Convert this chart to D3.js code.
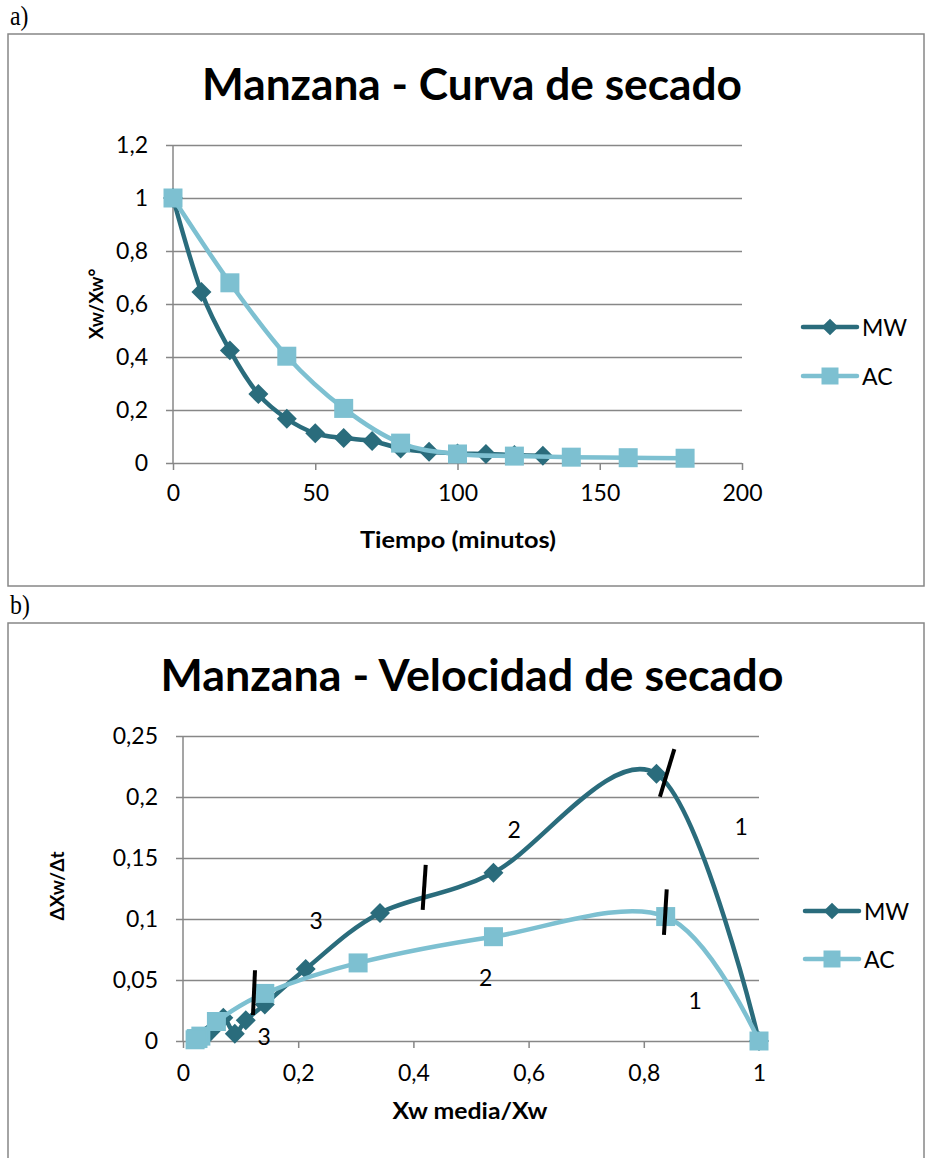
<!DOCTYPE html>
<html>
<head>
<meta charset="utf-8">
<script src="https://cdn.jsdelivr.net/npm/d3@7"></script>
<style>
  body { margin: 0; background: #fff; }
  svg { display: block; }
  text { font-family: Lato, "Open Sans", sans-serif; fill: #000; }
</style>
</head>
<body>
<svg id="chart" width="926" height="1158"></svg>
<script>
// ---- a) Curva de secado: Xw/Xw° frente al tiempo ----
const tiempoMW = [0, 10, 20, 30, 40, 50, 60, 70, 80, 90, 100, 110, 120, 130];
const xwMW     = [1, 0.645, 0.425, 0.26, 0.167, 0.112, 0.094, 0.083, 0.055, 0.042, 0.036, 0.034, 0.03, 0.027];
const tiempoAC = [0, 20, 40, 60, 80, 100, 120, 140, 160, 180];
const xwAC     = [1, 0.68, 0.403, 0.206, 0.075, 0.034, 0.026, 0.022, 0.02, 0.018];
const ticksTiempo = [0, 50, 100, 150, 200];
const ticksXw     = [0, 0.2, 0.4, 0.6, 0.8, 1, 1.2];

// ---- b) Velocidad de secado: ΔXw/Δt frente a Xw media/Xw ----
const xmMW = [1, 0.822, 0.539, 0.342, 0.213, 0.142, 0.109, 0.09, 0.07, 0.048, 0.039, 0.035, 0.032, 0.028];
const vMW  = [0, 0.219, 0.138, 0.105, 0.059, 0.030, 0.017, 0.006, 0.019, 0.008, 0.004, 0.002, 0.003, 0.002];
const xmAC = [1, 0.838, 0.539, 0.304, 0.142, 0.058, 0.031, 0.026, 0.023, 0.021];
const vAC  = [0, 0.102, 0.0855, 0.064, 0.039, 0.016, 0.004, 0.002, 0.002, 0.001];
const ticksXm = [0, 0.2, 0.4, 0.6, 0.8, 1];
const ticksV  = [0, 0.05, 0.1, 0.15, 0.2, 0.25];

// Trazos que separan los periodos de secado y números de periodo
const cortes = [
  { x1: 0.125, y1: 0.058, x2: 0.1215, y2: 0.0213 },
  { x1: 0.4214, y1: 0.1443, x2: 0.4161, y2: 0.1074 },
  { x1: 0.853, y1: 0.2393, x2: 0.828, y2: 0.2002 },
  { x1: 0.8398, y1: 0.1243, x2: 0.835, y2: 0.0869 }
];
const periodos = [
  { x: 0.969, y: 0.1754, t: "1" },
  { x: 0.575, y: 0.173, t: "2" },
  { x: 0.231, y: 0.0984, t: "3" },
  { x: 0.5255, y: 0.0516, t: "2" },
  { x: 0.889, y: 0.0328, t: "1" },
  { x: 0.141, y: 0.0033, t: "3" }
];

const colorMW = "#2A6C7C";
const colorAC = "#7DC0D1";
const gridColor = "#878787";

const locale = d3.formatLocale({ decimal: ",", thousands: ".", grouping: [3], currency: ["", " €"] });
const fmt = locale.format("~g");

const svg = d3.select("#chart");

const toPoints = (xs, ys) => xs.map((x, i) => ({ x, y: ys[i] }));

function panel(cfg) {
  const g = svg.append("g");

  // marco del gráfico
  g.append("rect")
    .attr("x", cfg.frame[0]).attr("y", cfg.frame[1])
    .attr("width", cfg.frame[2]).attr("height", cfg.frame[3])
    .attr("fill", "none").attr("stroke", gridColor).attr("stroke-width", 1.5);

  // letra del panel
  svg.append("text")
    .attr("transform", `translate(10,${cfg.frame[1] - 9}) scale(0.85,1)`)
    .style("font-family", "'Liberation Serif', serif")
    .style("font-size", "28px")
    .text(cfg.letter);

  const x = d3.scaleLinear().domain(cfg.xDomain).range(cfg.xRange);
  const y = d3.scaleLinear().domain(cfg.yDomain).range(cfg.yRange);
  const w = cfg.xRange[1] - cfg.xRange[0];

  // título
  g.append("text")
    .attr("x", cfg.titleX).attr("y", cfg.titleY)
    .attr("text-anchor", "middle")
    .attr("textLength", cfg.titleLen)
    .attr("lengthAdjust", "spacingAndGlyphs")
    .style("font-size", "43px").style("font-weight", "bold")
    .text(cfg.title);

  // eje y con líneas de cuadrícula
  const yAxis = g.append("g")
    .attr("transform", `translate(${cfg.xRange[0] - 7},0)`)
    .call(d3.axisLeft(y).tickValues(cfg.yTicks).tickSize(-(w + 7)).tickPadding(18).tickFormat(fmt));
  yAxis.select(".domain").remove();
  yAxis.selectAll(".tick line").attr("stroke", gridColor).attr("stroke-width", 1.5);
  yAxis.selectAll(".tick text").style("font-size", "23px").style("font-family", "Lato, sans-serif");

  g.append("line")
    .attr("x1", cfg.xRange[0]).attr("x2", cfg.xRange[0])
    .attr("y1", cfg.yRange[1]).attr("y2", cfg.yRange[0])
    .attr("stroke", gridColor).attr("stroke-width", 1.5);

  // eje x
  const xAxis = g.append("g")
    .attr("transform", `translate(0,${cfg.yRange[0]})`)
    .call(d3.axisBottom(x).tickValues(cfg.xTicks).tickSize(7).tickSizeOuter(0).tickPadding(cfg.xPad).tickFormat(fmt));
  xAxis.select(".domain").remove();
  xAxis.selectAll(".tick line").attr("stroke", gridColor).attr("stroke-width", 1.5);
  xAxis.selectAll(".tick text").style("font-size", "23px").style("font-family", "Lato, sans-serif");

  // títulos de los ejes
  g.append("text")
    .attr("x", cfg.xLabelPos[0]).attr("y", cfg.xLabelPos[1])
    .attr("text-anchor", "middle")
    .attr("textLength", cfg.xLabelLen)
    .attr("lengthAdjust", "spacingAndGlyphs")
    .style("font-size", "23px").style("font-weight", "bold")
    .text(cfg.xLabel);
  g.append("text")
    .attr("transform", `translate(${cfg.yLabelPos[0]},${cfg.yLabelPos[1]}) rotate(-90)`)
    .attr("text-anchor", "middle")
    .style("font-size", "19px").style("font-weight", "bold")
    .text(cfg.yLabel);

  const line = d3.line().x(d => x(d.x)).y(d => y(d.y)).curve(d3.curveCatmullRom.alpha(0));
  const diamond = d3.symbol(d3.symbolSquare, 200);
  const square = d3.symbol(d3.symbolSquare, 361);

  cfg.series.forEach(s => {
    g.append("path")
      .datum(s.points)
      .attr("d", line)
      .attr("fill", "none")
      .attr("stroke", s.color)
      .attr("stroke-width", 4.5)
      .attr("stroke-linejoin", "round")
      .attr("stroke-linecap", "round");
    g.append("g").selectAll("path")
      .data(s.points)
      .join("path")
      .attr("transform", d => `translate(${x(d.x)},${y(d.y)})` + (s.shape === "diamond" ? " rotate(45)" : ""))
      .attr("d", s.shape === "diamond" ? diamond : square)
      .attr("fill", s.color);
  });

  // leyenda
  const leg = g.append("g");
  cfg.series.forEach((s, i) => {
    const ly = cfg.legendY[i];
    const lx = cfg.legendX;
    leg.append("line")
      .attr("x1", lx).attr("x2", lx + 54)
      .attr("y1", ly).attr("y2", ly)
      .attr("stroke", s.color).attr("stroke-width", 4.5).attr("stroke-linecap", "round");
    leg.append("path")
      .attr("transform", `translate(${lx + 27},${ly})` + (s.shape === "diamond" ? " rotate(45)" : ""))
      .attr("d", d3.symbol(d3.symbolSquare, s.shape === "diamond" ? 140 : 289))
      .attr("fill", s.color);
    leg.append("text")
      .attr("x", lx + 59).attr("y", ly + 8.5)
      .style("font-size", "23px")
      .text(s.name);
  });

  return { g, x, y };
}

// Panel a)
panel({
  letter: "a)",
  frame: [8, 34, 916, 552],
  title: "Manzana - Curva de secado",
  titleX: 472, titleY: 100, titleLen: 540,
  xDomain: [0, 200], xRange: [173, 742],
  yDomain: [0, 1.2], yRange: [463, 145],
  xTicks: ticksTiempo, yTicks: ticksXw, xPad: 15,
  xLabel: "Tiempo (minutos)", xLabelPos: [458, 548], xLabelLen: 196,
  yLabel: "Xw/Xw°", yLabelPos: [103, 304],
  legendX: 803, legendY: [327, 376],
  series: [
    { name: "MW", color: colorMW, shape: "diamond", points: toPoints(tiempoMW, xwMW) },
    { name: "AC", color: colorAC, shape: "square", points: toPoints(tiempoAC, xwAC) }
  ]
});

// Panel b)
const b = panel({
  letter: "b)",
  frame: [8, 623, 916, 600],
  title: "Manzana - Velocidad de secado",
  titleX: 472, titleY: 691, titleLen: 623,
  xDomain: [0, 1], xRange: [183, 759],
  yDomain: [0, 0.25], yRange: [1041, 736],
  xTicks: ticksXm, yTicks: ticksV, xPad: 17,
  xLabel: "Xw media/Xw", xLabelPos: [470, 1119], xLabelLen: 155,
  yLabel: "ΔXw/Δt", yLabelPos: [64, 886],
  legendX: 805, legendY: [911, 959],
  series: [
    { name: "MW", color: colorMW, shape: "diamond", points: toPoints(xmMW, vMW) },
    { name: "AC", color: colorAC, shape: "square", points: toPoints(xmAC, vAC) }
  ]
});

// divisiones entre periodos
b.g.append("g").selectAll("line")
  .data(cortes)
  .join("line")
  .attr("x1", d => b.x(d.x1)).attr("y1", d => b.y(d.y1))
  .attr("x2", d => b.x(d.x2)).attr("y2", d => b.y(d.y2))
  .attr("stroke", "#000").attr("stroke-width", 4);

b.g.append("g").selectAll("text")
  .data(periodos)
  .join("text")
  .attr("x", d => b.x(d.x)).attr("y", d => b.y(d.y) + 8)
  .attr("text-anchor", "middle")
  .style("font-size", "23px")
  .text(d => d.t);
</script>
</body>
</html>
